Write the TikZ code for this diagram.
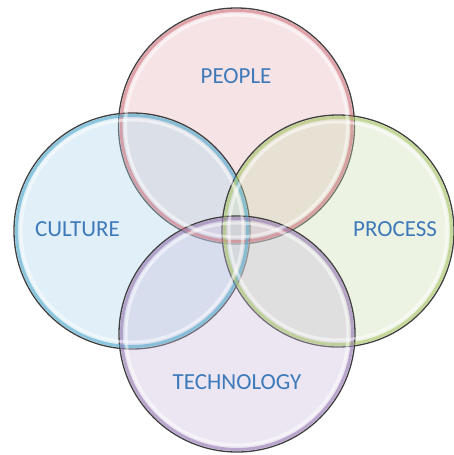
\documentclass[tikz,border=0pt]{standalone}
\usepackage{fontspec}
\setmainfont{Carlito}
\begin{document}
\begin{tikzpicture}[x=1pt,y=-1pt,
  bubble/.style={circle, minimum size=236pt, inner sep=0pt, draw=black!75, line width=1.3pt, fill opacity=0.36},
  glow/.style={circle, minimum size=231pt, inner sep=0pt, line width=3pt, draw opacity=0.55},
  shine/.style={circle, minimum size=222pt, inner sep=0pt, line width=3pt, draw=white, draw opacity=0.5},
  lbl/.style={font=\fontsize{23}{26}\selectfont, text=lblue}]
\definecolor{lblue}{RGB}{62,122,186}
\definecolor{cpink}{RGB}{232,180,188}
\definecolor{cblue}{RGB}{172,216,236}
\definecolor{cgreen}{RGB}{206,224,180}
\definecolor{cpurple}{RGB}{202,188,220}
\definecolor{epink}{RGB}{205,110,120}
\definecolor{eblue}{RGB}{70,165,200}
\definecolor{egreen}{RGB}{165,195,95}
\definecolor{epurple}{RGB}{145,115,175}
\useasboundingbox (0,0) rectangle (454,455);
\fill[white] (0,0) rectangle (454,455);
\node[bubble, fill=cpink] (people) at (236.5,126) {};
\node[bubble, fill=cblue] (culture) at (132,231) {};
\node[bubble, fill=cgreen, minimum size=232pt] (process) at (338,231) {};
\node[bubble, fill=cpurple] (technology) at (237,334) {};
\node[glow, draw=epink] (gp) at (people.center) {};
\node[glow, draw=eblue] (gc) at (culture.center) {};
\node[glow, draw=egreen, minimum size=227pt] (gr) at (process.center) {};
\node[glow, draw=epurple] (gt) at (technology.center) {};
\node[shine] (sp) at (people.center) {};
\node[shine] (sc) at (culture.center) {};
\node[shine, minimum size=218pt] (sr) at (process.center) {};
\node[shine] (st) at (technology.center) {};
\node[lbl] (tp) at (236,76) {PEOPLE};
\node[lbl] (tc) at (77.5,229) {CULTURE};
\node[lbl] (tr) at (395,229) {PROCESS};
\node[lbl] (tt) at (237,382) {TECHNOLOGY};
\end{tikzpicture}
\end{document}
